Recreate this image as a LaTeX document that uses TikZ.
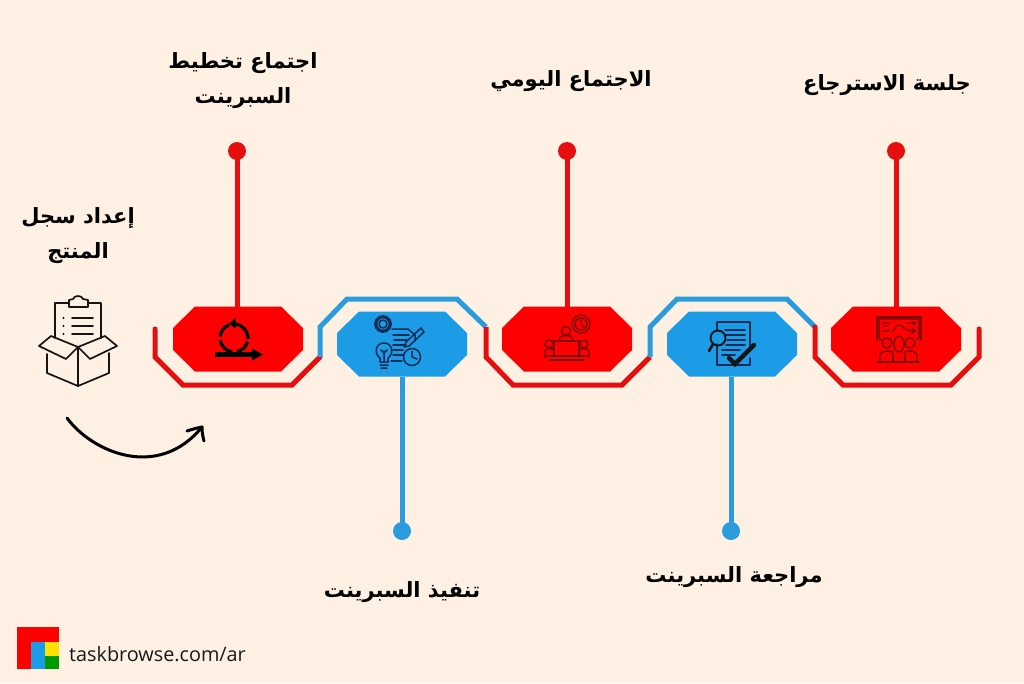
\documentclass[tikz,border=0pt]{standalone}
\usepackage{fontspec}
\TeXXeTstate=1
\newfontfamily\arabicfont[Script=Arabic]{DejaVu Sans}
\newfontfamily\logofont{Open Sans}
\definecolor{bgc}{HTML}{FEF1E3}
\definecolor{redfill}{HTML}{FE0000}
\definecolor{redline}{HTML}{E60F0F}
\definecolor{bluefill}{HTML}{1C9CE6}
\definecolor{blueline}{HTML}{2A9CDD}
\definecolor{inkc}{HTML}{141414}
\definecolor{inkb}{HTML}{0A2C55}
\definecolor{inkr}{HTML}{7A0606}
\tikzset{
  hub/.style={shape=rectangle,minimum width=130pt,minimum height=65pt,inner sep=0pt,outer sep=0pt},
  dotr/.style={circle,fill=redline,minimum size=18pt,inner sep=0pt},
  dotb/.style={circle,fill=blueline,minimum size=18pt,inner sep=0pt},
  stemr/.style={draw=redline,line width=5pt},
  stemb/.style={draw=blueline,line width=5pt},
  track/.style={line width=5pt,line join=miter},
  lab/.style={align=center,font=\arabicfont\bfseries\fontsize{21}{35}\selectfont,text=black,inner sep=0pt},
  ico/.style={draw=inkc,line width=1.7pt,line cap=round,line join=round},
  icob/.style={draw=inkb,line width=1.5pt,line cap=round,line join=round},
  icor/.style={draw=inkr,line width=1.4pt,line cap=round,line join=round},
}
\newcommand{\hubshape}[3]{%
  \fill[#3] (#1-43,#2-32.5) -- (#1+43,#2-32.5) -- (#1+65,#2-11) -- (#1+65,#2+11) -- (#1+43,#2+32.5) -- (#1-43,#2+32.5) -- (#1-65,#2+11) -- (#1-65,#2-11) -- cycle;
}
\begin{document}
\begin{tikzpicture}[x=1pt,y=-1pt]
\useasboundingbox (0,0) rectangle (1024,683);
\fill[bgc] (0,0) rectangle (1024,683);

% tracks
\draw[track,redline,line cap=round] (155,329) -- (155,357) -- (183,385) -- (292,385) -- (320,357);
\draw[track,blueline] (320,357) -- (320,327) -- (347,299) -- (457,299) -- (486,327);
\draw[track,redline] (486,327) -- (486,357) -- (513,385) -- (622,385) -- (650,357);
\draw[track,blueline] (650,357) -- (650,327) -- (677,299) -- (787,299) -- (815,327);
\draw[track,redline,line cap=round] (815,327) -- (815,357) -- (843,385) -- (951,385) -- (979,357) -- (979,329);

% hubs
\hubshape{238}{339}{redfill}
\hubshape{402}{344}{bluefill}
\hubshape{567}{339}{redfill}
\hubshape{732}{344}{bluefill}
\hubshape{896}{339}{redfill}
\node[hub] (h1) at (238,339) {};
\node[hub] (h2) at (402,344) {};
\node[hub] (h3) at (567,339) {};
\node[hub] (h4) at (732,344) {};
\node[hub] (h5) at (896,339) {};

% dots & stems
\node[dotr] (d1) at (237,151) {};
\node[dotr] (d3) at (567,151) {};
\node[dotr] (d5) at (896,151) {};
\node[dotb] (d2) at (402,531) {};
\node[dotb] (d4) at (731,531) {};
\draw[stemr] (d1.center) -- (d1.center |- h1.north);
\draw[stemr] (d3.center) -- (h3.north);
\draw[stemr] (d5.center) -- (h5.north);
\draw[stemb] (d2.center) -- (h2.south);
\draw[stemb] (d4.center) -- (d4.center |- h4.south);

% labels
\node[lab] (l1) at (243,81) {\beginR اجتماع تخطيط\endR\\\beginR السبرينت\endR};
\node[lab] (l2) at (402,592) {\beginR تنفيذ السبرينت\endR};
\node[lab] (l3) at (571,81) {\beginR الاجتماع اليومي\endR};
\node[lab] (l4) at (734,577) {\beginR مراجعة السبرينت\endR};
\node[lab] (l5) at (887,85) {\beginR جلسة الاسترجاع\endR};
\node[lab] (l0) at (78,236) {\beginR إعداد سجل\endR\\\beginR المنتج\endR};

% box + clipboard icon
\begin{scope}[ico]
  \draw (55,338) -- (55,303) -- (69,303) (88,303) -- (101,303) -- (101,338);
  \draw (69,307) -- (69,300) -- (73,299) .. controls (74,295) and (82,295) .. (83,299) -- (88,300) -- (88,307) -- cycle;
  \draw (72,318) -- (93,318) (72,326) -- (93,326) (72,334) -- (93,334);
  \draw (39,346) -- (51,336) -- (78,347) -- (66,359) -- cycle;
  \draw (78,347) -- (105,336) -- (117,346) -- (90,359) -- cycle;
  \draw (47,354) -- (47,373) -- (78,386) -- (109,373) -- (109,353);
  \draw (78,347) -- (78,386);
\end{scope}
\fill[inkc] (63.5,318) circle (1.2) (63.5,326) circle (1.2) (63.5,334) circle (1.2);

% curved arrow
\coordinate (as) at (67,418);
\coordinate (ae) at (202,427);
\draw[black,line width=3pt,line cap=round] (as) .. controls (92,452) and (158,481) .. (ae);
\draw[black,line width=3pt,line cap=round,line join=round] (187,431) .. controls (193,429) and (197,428) .. (ae) .. controls (202,433) and (203,437) .. (204,441);

% icon: scrum loop
\begin{scope}[shift={(234,338)}]
  \draw[black,line width=3.2pt] (275:14) arc (275:365:14);
  \draw[black,line width=3.2pt] (15:14) arc (15:78:14);
  \draw[black,line width=3.2pt] (98:14) arc (98:172:14);
  \draw[black,line width=3.2pt] (186:14) arc (186:250:14);
  \fill[black] (-5,-14.5) -- (1.5,-20) -- (1.5,-9.5) -- cycle;
  \draw[black,line width=4.4pt] (-19,16.5) -- (19,16.5);
  \fill[black] (29,16.5) -- (18,10.5) -- (18,22.5) -- cycle;
\end{scope}

% icon: planning (gear, doc, bulb, clock, pencil)
\begin{scope}[icob]
  \draw (383,324) circle (4);
  \draw[dash pattern=on 2.6pt off 1.4pt,line width=2pt] (383,324) circle (8);
  \draw (383,324) circle (6.4);
  \draw (392,329) -- (408,329) -- (415,335) -- (415,341);
  \draw (393,335) -- (409,335) (394,340) -- (408,340) (393,345) -- (406,345) (393,350) -- (403,350) (393,355) -- (403,355) (391,361) -- (402,361);
  \draw (421,328) -- (406,342) -- (404,347) -- (409,346) -- (424,332) -- cycle;
  \draw (384,343) .. controls (375,343) and (374,354) .. (380,358) -- (380,362) -- (388,362) -- (388,358) .. controls (394,354) and (393,343) .. (384,343);
  \draw (380,365) -- (388,365) (381,368) -- (387,368) (384,351) -- (384,361) (381,350) -- (384,353) -- (387,350);
  \fill[bluefill] (412,357) circle (8.5);
  \draw (412,357) circle (8.5);
  \draw (412,351) -- (412,357) -- (417,359);
\end{scope}

% icon: daily meeting
\begin{scope}[icor]
  \draw (581,324) circle (9);
  \draw (581,324) circle (6);
  \draw (581,320) -- (581,324) -- (584,327);
  \draw (566,331) circle (4.5);
  \draw (559,341) -- (560,337) .. controls (562,335) and (570,335) .. (572,337) -- (573,341);
  \draw (554,341) -- (579,341) -- (579,356) -- (554,356) -- cycle;
  \draw (549,344) circle (4);
  \draw (584,344) circle (4);
  \draw (545,358) -- (545,351) .. controls (546,348) and (552,348) .. (554,350);
  \draw (589,358) -- (589,351) .. controls (588,348) and (581,348) .. (579,350);
  \draw (550,360) -- (584,360) (546,356) -- (588,356);
\end{scope}

% icon: review doc
\begin{scope}[icob]
  \draw (717,322) -- (750,322) -- (750,346) (750,358) -- (750,365) -- (717,365) -- (717,344) (717,331) -- (717,322);
  \draw[line width=1.8pt] (725,330) -- (745,330) (725,335) -- (745,335) (727,340) -- (745,340) (726,345) -- (745,345) (722,350) -- (740,350) (722,355) -- (735,355);
\end{scope}
\draw[inkc,line width=1.9pt] (718,338) circle (7.5);
\draw[inkc,line width=2.6pt,line cap=round] (713,344) -- (709,351);
\draw[inkc,line width=4.4pt,line cap=round,line join=miter] (729,358) -- (735,364) -- (754,345);

% icon: retrospective
\begin{scope}[icor]
  \draw (881,340) -- (879,338) -- (879,319) -- (919,319) -- (919,338) -- (917,340);
  \draw (877,340) -- (877,317) -- (921,317) -- (921,340);
  \draw (883,323) -- (890,323) (883,326) -- (888,326) (907,323) -- (911,323) (914,323) circle (1.5);
  \draw (883,331) -- (889,331) (892,331) .. controls (896,331) and (894,325) .. (899,325) .. controls (904,325) and (902,331) .. (915,331);
  \draw (912,328.5) -- (915,331) -- (912,333.5);
  \draw (899,344) ellipse (5 and 8);
  \draw (887,343) circle (5);
  \draw (910,343) circle (5);
  \draw (893,361) -- (893,354) (905,361) -- (905,354);
  \draw (880,361) -- (880,355) .. controls (881,351) and (888,350) .. (893,352);
  \draw (917,361) -- (917,355) .. controls (916,351) and (910,350) .. (905,352);
  \draw (877,362) -- (920,362);
\end{scope}

% logo
\fill[redfill] (17,627) rectangle (59,669);
\fill[bluefill] (31,642) rectangle (45,669);
\fill[yellow!85!orange] (45,642) rectangle (59,656);
\fill[green!60!black] (45,656) rectangle (59,669);
\node[font=\logofont\fontsize{19.8}{22}\selectfont,text=black!90,inner sep=0pt,anchor=west] (url) at (69,654) {taskbrowse.com/ar};
\end{tikzpicture}
\end{document}
